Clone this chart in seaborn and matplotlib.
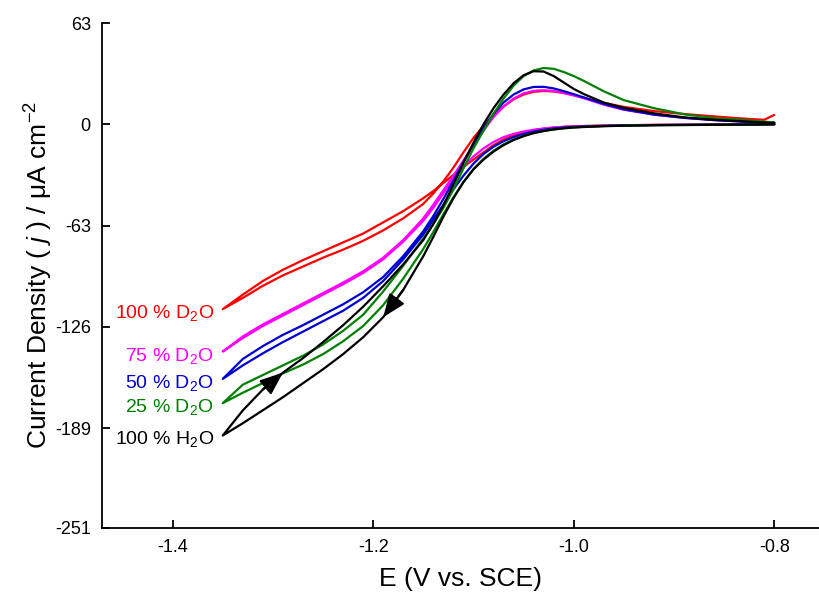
import numpy as np
import pandas as pd
import seaborn as sns
import matplotlib
matplotlib.use("Agg")
import matplotlib.pyplot as plt

# potential grid (V vs. SCE), shared by every branch
E = [-1.35, -1.33, -1.31, -1.29, -1.27, -1.25, -1.23, -1.21, -1.19, -1.17,
     -1.15, -1.14, -1.13, -1.12, -1.11, -1.10, -1.09, -1.08, -1.07, -1.06,
     -1.05, -1.04, -1.03, -1.02, -1.01, -1.00, -0.99, -0.97, -0.95, -0.92,
     -0.89, -0.86, -0.83, -0.81, -0.80]

# current density (uA cm-2); fwd = cathodic sweep, rev = anodic sweep
d100_fwd = [-115, -106, -97.5, -90.5, -84.5, -79, -73.5, -68, -61, -54,
            -46, -41.5, -36.5, -31.5, -26.5, -22, -17.5, -13, -9.5, -7,
            -5, -3.7, -2.8, -2.1, -1.6, -1.3, -1.1, -0.8, -0.6, -0.4,
            -0.3, -0.2, -0.1, 0, 0]
d100_rev = [-115, -108, -100.5, -94, -88.5, -83, -78, -72.5, -66, -58.5,
            -49.5, -43, -35.5, -27, -17.5, -8.5, -1, 5.5, 11, 15.5,
            18.5, 20.2, 20.7, 20.4, 19.4, 18, 16.5, 13.3, 10.8, 8.2,
            6.4, 4.9, 3.5, 2.8, 5.8]

d75_fwd = [-141.4, -133, -125.5, -119, -112.5, -106, -99.5, -92.5, -84, -73,
           -60, -52, -43, -34, -26.5, -20, -15, -11, -8, -6,
           -4.5, -3.4, -2.6, -2, -1.6, -1.3, -1.1, -0.8, -0.6, -0.4,
           -0.3, -0.2, -0.1, 0, 0]
d75_rev = [-141.4, -132, -124.5, -118, -111.5, -105, -98.5, -91.5, -83, -72,
           -58.5, -50, -41, -32, -22.5, -13, -4, 4.5, 11, 16,
           19.2, 20.8, 21.2, 20.7, 19.5, 18, 16.2, 12.2, 9, 6,
           4, 2.6, 1.6, 1.1, 0.8]

d50_fwd = [-158.4, -150, -142.5, -135.5, -129, -122.5, -116, -108, -97.5, -84,
           -68.5, -59.5, -50, -40.5, -32, -24.5, -18.5, -14, -10.5, -8,
           -6, -4.5, -3.4, -2.6, -2, -1.6, -1.3, -1, -0.7, -0.5,
           -0.35, -0.25, -0.15, -0.05, 0]
d50_rev = [-158.4, -146, -138, -131, -125, -118.5, -112, -104.5, -95, -82,
           -66.5, -57, -46.5, -35, -23.5, -12.5, -2.5, 6.5, 13.5, 18.5,
           21.7, 23.2, 23.3, 22.3, 20.6, 18.7, 16.7, 12.6, 9.3, 6,
           4, 2.6, 1.6, 1.1, 0.8]

d25_fwd = [-173.5, -167, -161, -155, -149.5, -143, -135, -125.5, -112.5, -96,
           -77.5, -67, -56, -45.5, -36, -28, -21.5, -16.5, -12.5, -9.5,
           -7.2, -5.4, -4.1, -3.2, -2.5, -2, -1.6, -1.1, -0.8, -0.5,
           -0.4, -0.3, -0.2, -0.1, 0]
d25_rev = [-173.5, -162, -156, -150, -144, -137, -128.5, -118.5, -104, -88,
           -71, -62, -52, -40.5, -27.5, -15, -4, 6.5, 16, 24,
           30, 33.5, 35, 34.5, 32.5, 30, 27, 20.5, 15, 10,
           6.2, 3.8, 2.6, 1.6, 1.2]

h2o_fwd = [-193.6, -186, -177.9, -169.8, -161.1, -152.4, -143, -132.5, -120, -103,
           -82, -70, -57.5, -46, -36, -28, -22, -17, -13, -9.8,
           -7.4, -5.5, -4.2, -3.2, -2.5, -2, -1.7, -1.2, -0.9, -0.6,
           -0.5, -0.3, -0.2, -0.1, 0]
h2o_rev = [-193.6, -178, -165, -154.5, -145.5, -135.5, -125, -113.5, -100.7, -87.1,
           -72, -62, -50.5, -37.5, -24, -11.5, 0, 10, 18.5, 25.5,
           30.5, 33, 32.8, 30, 26, 22, 18.8, 13.5, 10.2, 6.8,
           4.3, 2.8, 1.8, 1.1, 0.8]

labels = ["100 % D$_2$O", "75 % D$_2$O", "50 % D$_2$O", "25 % D$_2$O", "100 % H$_2$O"]
colors = ["#ff0000", "#ff00ff", "#0000d0", "#008000", "#000000"]
branches = [(d100_fwd, d100_rev), (d75_fwd, d75_rev), (d50_fwd, d50_rev),
            (d25_fwd, d25_rev), (h2o_fwd, h2o_rev)]

yticks = [63, 0, -63, -126, -189, -251]
xticks = [-1.4, -1.2, -1.0, -0.8]

rows = []
for lab, (fwd, rev) in zip(labels, branches):
    # cathodic sweep from -0.8 V down to -1.35 V, then back
    path_E = E[::-1] + E
    path_j = fwd[::-1] + rev
    for i, (e, j) in enumerate(zip(path_E, path_j)):
        rows.append({"E": e, "j": j, "solution": lab, "step": i})
df = pd.DataFrame(rows)

sns.set_theme(style="ticks")
plt.rcParams["font.family"] = ["Liberation Sans", "DejaVu Sans"]
plt.rcParams["mathtext.fontset"] = "custom"
plt.rcParams["mathtext.rm"] = "Liberation Sans"
plt.rcParams["mathtext.it"] = "Liberation Sans:italic"
plt.rcParams["text.color"] = "black"
plt.rcParams["axes.labelcolor"] = "black"

fig = plt.figure(figsize=(8.19, 5.99), dpi=100)
ax = fig.add_axes([0.1245, 0.119, 0.8755, 0.8426])

sns.lineplot(data=df, x="E", y="j", hue="solution", hue_order=labels,
             palette=dict(zip(labels, colors)), units="solution",
             estimator=None, sort=False, legend=False, lw=1.6, ax=ax)

# sweep direction arrows on the H2O curve
arr = dict(arrowstyle="-|>,head_length=0.7,head_width=0.28", color="black",
           lw=1.6, shrinkA=0, shrinkB=0, mutation_scale=20)
ax.annotate("", xy=(E[8], h2o_fwd[8]), xytext=(E[9], h2o_fwd[9]), arrowprops=arr)
ax.annotate("", xy=(E[3], h2o_rev[3]), xytext=(E[2], h2o_rev[2]), arrowprops=arr)

for lab, col, (fwd, rev) in zip(labels, colors, branches):
    ax.text(E[0] - 0.009, fwd[0] - 2.5, lab, color=col, fontsize=14,
            ha="right", va="center")

ax.set_xlim(-1.4705, -0.7554)
ax.set_ylim(-251, 63)
ax.set_xticks(xticks)
ax.set_xticklabels([f"{t:.1f}" for t in xticks])
ax.set_yticks(yticks)
ax.set_yticklabels([str(t) for t in yticks])
ax.tick_params(direction="in", length=6, width=1.3, labelsize=13, colors="black", pad=8)
ax.set_xlabel("E (V vs. SCE)", fontsize=19, labelpad=8)
ax.set_ylabel("Current Density ( $j$ ) / \u03bcA cm$^{-2}$", fontsize=19, labelpad=0)
sns.despine(ax=ax)
for s in ["left", "bottom"]:
    ax.spines[s].set_linewidth(1.3)
    ax.spines[s].set_color("black")

fig.savefig("out.png", dpi=100)
